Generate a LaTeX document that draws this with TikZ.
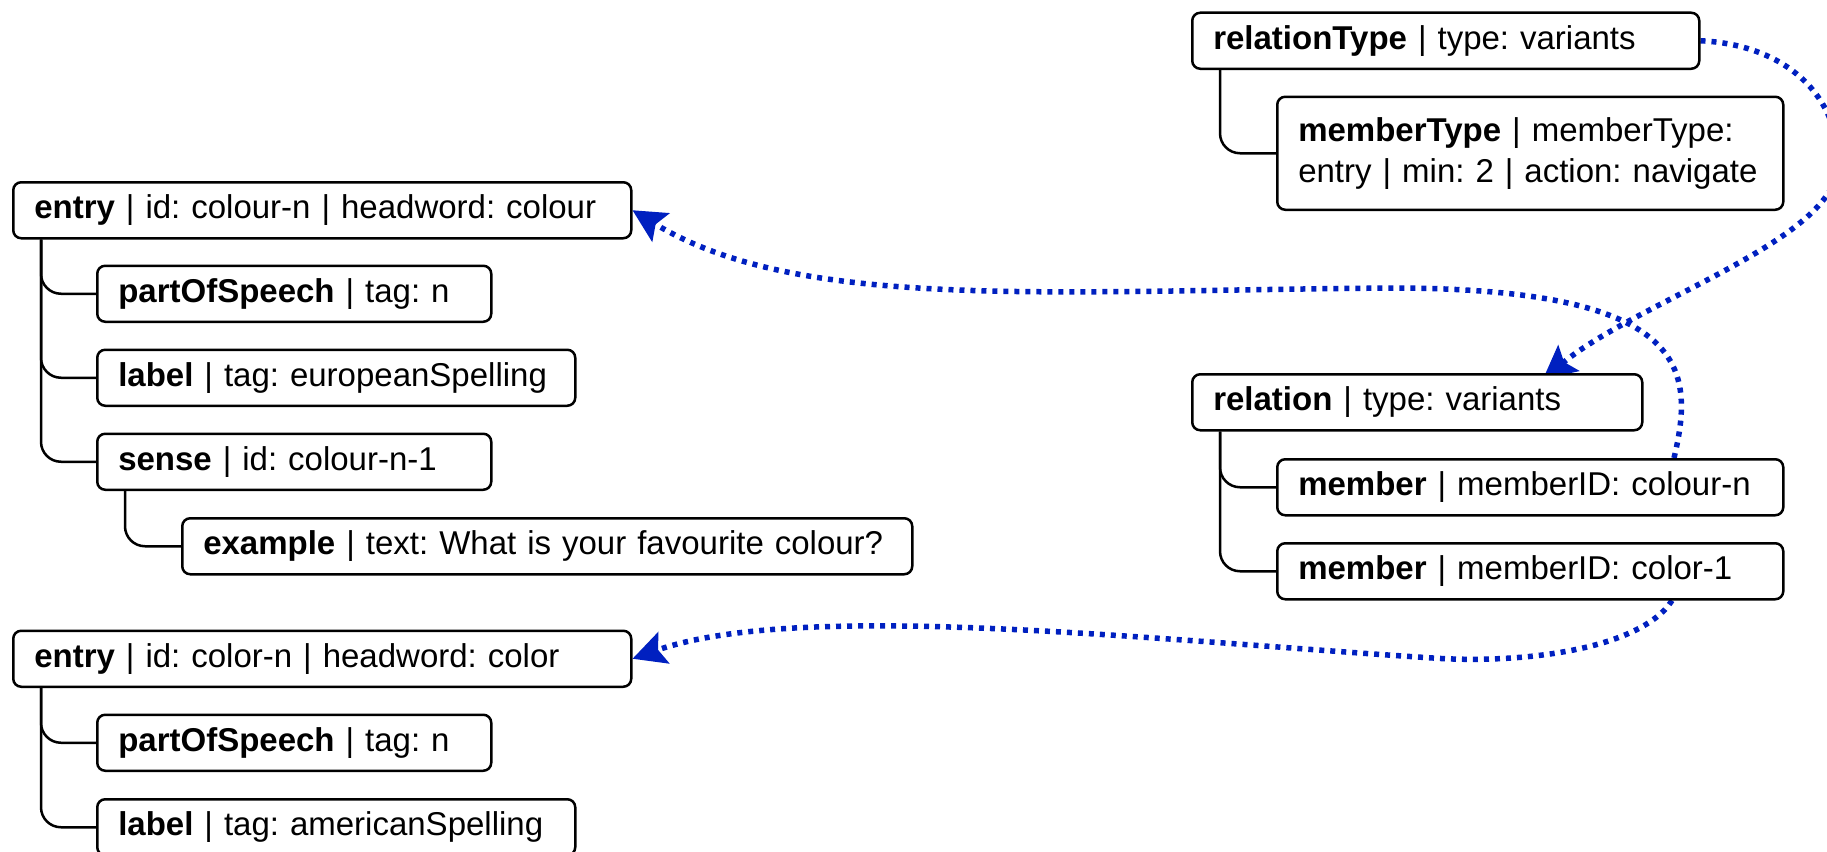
\documentclass[tikz,border=0pt]{standalone}
\usepackage{fontspec}
\setmainfont{Liberation Sans}
\usetikzlibrary{arrows.meta,backgrounds}
\definecolor{linkblue}{HTML}{0020C0}
\frenchspacing
\tikzset{
  box/.style={draw=black, line width=2.5pt, rounded corners=8pt, fill=white,
    anchor=north west, minimum height=56pt, inner xsep=21pt, inner ysep=0pt,
    align=left, font=\fontsize{33pt}{41pt}\selectfont\frenchspacing},
  tree/.style={draw=black, line width=2.5pt, rounded corners=20pt},
  link/.style={draw=linkblue, line width=5.5pt, dash pattern=on 5pt off 6pt,
    -{Stealth[length=33pt,width=33pt,inset=6pt]}},
}
\begin{document}
\begin{tikzpicture}[x=1pt,y=-1pt]
\useasboundingbox (0,0) rectangle (1827,851);
% left tree 1
\node[box, text width=576pt] (entry1) at (12,181) {\mbox{\textbf{entry} | id: colour-n | headword: colour}};
\node[box, text width=352pt] (pos1) at (96,264.5) {\mbox{\textbf{partOfSpeech} | tag: n}};
\node[box, text width=436pt] (label1) at (96,348.5) {\mbox{\textbf{label} | tag: europeanSpelling}};
\node[box, text width=352pt] (sense) at (96,432.5) {\mbox{\textbf{sense} | id: colour-n-1}};
\node[box, text width=688pt] (example) at (181,517) {\mbox{\textbf{example} | text: What is your favourite colour?}};
% left tree 2
\node[box, text width=576pt] (entry2) at (12,629.5) {\mbox{\textbf{entry} | id: color-n | headword: color}};
\node[box, text width=352pt] (pos2) at (96,713.5) {\mbox{\textbf{partOfSpeech} | tag: n}};
\node[box, text width=436pt] (label2) at (96,798) {\mbox{\textbf{label} | tag: americanSpelling}};
% right trees
\node[box, text width=465pt] (reltype) at (1191,11.5) {\mbox{\textbf{relationType} | type: variants}};
\node[box, text width=464pt, minimum height=113pt] (memtype) at (1276,95.5) {\mbox{\textbf{memberType} | memberType:}\\\mbox{entry | min: 2 | action: navigate}};
\node[box, text width=408pt] (relation) at (1191,373) {\mbox{\textbf{relation} | type: variants}};
\node[box, text width=464pt] (member1) at (1276,458) {\mbox{\textbf{member} | memberID: colour-n}};
\node[box, text width=464pt] (member2) at (1276,542) {\mbox{\textbf{member} | memberID: color-1}};
% tree connectors
\draw[tree] ([xshift=29pt]entry1.south west) |- (pos1.west);
\draw[tree] ([xshift=29pt]entry1.south west) |- (label1.west);
\draw[tree] ([xshift=29pt]entry1.south west) |- (sense.west);
\draw[tree] ([xshift=29pt]sense.south west) |- (example.west);
\draw[tree] ([xshift=29pt]entry2.south west) |- (pos2.west);
\draw[tree] ([xshift=29pt]entry2.south west) |- (label2.west);
\draw[tree] ([xshift=29pt]reltype.south west) |- (memtype.west);
\draw[tree] ([xshift=29pt]relation.south west) |- (member1.west);
\draw[tree] ([xshift=29pt]relation.south west) |- (member2.west);
% links
\begin{scope}[on background layer]
\fill[white] (0,0) rectangle (1827,851);
\draw[link] (reltype.east) .. controls (1790,45) and (1840,100) .. (1838,165)
  .. controls (1836,240) and (1640,300) .. ([xshift=352pt,yshift=-6pt]relation.north west);
\draw[link] ([xshift=398pt]member1.north west) .. controls (1695,370) and (1690,290) .. (1400,288)
  .. controls (1050,290) and (800,312) .. (entry1.east);
\draw[link] ([xshift=396pt]member2.south west) .. controls (1640,650) and (1520,664) .. (1433,658)
  .. controls (1150,640) and (800,600) .. (entry2.east);
\end{scope}
\end{tikzpicture}
\end{document}
